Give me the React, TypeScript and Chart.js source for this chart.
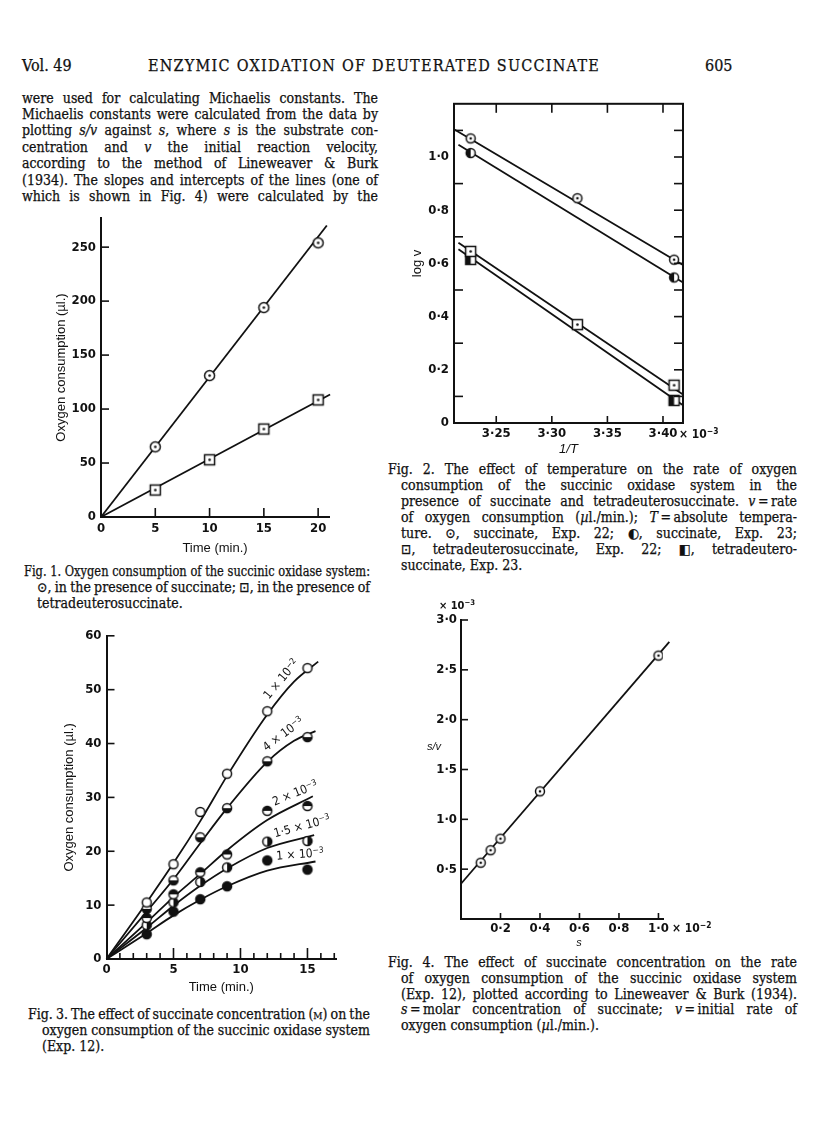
import React, { useEffect, useLayoutEffect, useRef } from 'react';
import { Chart, registerables } from 'chart.js';
Chart.register(...registerables);

// ---------------- Fig. 1 data ----------------
const fig1Time = [5, 10, 15, 20];
const fig1Succinate = [65, 131, 194, 254];
const fig1Deutero = [25, 53, 81.5, 108.5];
const fig1SuccFitX = [0, 20.8];
const fig1SuccFitY = [0, 270];
const fig1DeutFitX = [0, 21.1];
const fig1DeutFitY = [0, 113.5];
const fig1XTicks = [0, 5, 10, 15, 20];
const fig1XLabels = ['0', '5', '10', '15', '20'];
const fig1YTicks = [0, 50, 100, 150, 200, 250];
const fig1YLabels = ['0', '50', '100', '150', '200', '250'];
const fig1XMarks = [5, 10, 15, 20];
const fig1YMarks = [50, 100, 150, 200, 250];

// ---------------- Fig. 2 data ----------------
const fig2InvT22 = [3.227, 3.323, 3.41];
const fig2Succ22 = [1.07, 0.845, 0.614];
const fig2InvT23 = [3.227, 3.41];
const fig2Succ23 = [1.015, 0.547];
const fig2Deut22 = [0.645, 0.37, 0.142];
const fig2Deut23 = [0.615, 0.085];
const fig2FitSucc22X = [3.212, 3.418];
const fig2FitSucc22Y = [1.104, 0.594];
const fig2FitSucc23X = [3.216, 3.418];
const fig2FitSucc23Y = [1.046, 0.528];
const fig2FitDeut22X = [3.216, 3.418];
const fig2FitDeut22Y = [0.678, 0.107];
const fig2FitDeut23X = [3.216, 3.418];
const fig2FitDeut23Y = [0.653, 0.067];
const fig2XTicks = [3.25, 3.3, 3.35, 3.4];
const fig2XLabels = ['3·25', '3·30', '3·35', '3·40'];
const fig2YTicks = [0, 0.2, 0.4, 0.6, 0.8, 1.0];
const fig2YLabels = ['0', '0·2', '0·4', '0·6', '0·8', '1·0'];
const fig2LeftMarks = [0.1, 0.3, 0.5, 0.7, 0.9, 1.1];
const fig2RightMarks = [0.1, 0.2, 0.3, 0.4, 0.5, 0.6, 0.7, 0.8, 0.9, 1.0, 1.1];

// ---------------- Fig. 3 data ----------------
const fig3Time = [3, 5, 7, 9, 12, 15];
const fig3Conc1e2 = [10.5, 17.6, 27.3, 34.4, 46.0, 54.0];
const fig3Conc4e3 = [9.3, 14.6, 22.6, 28.0, 36.7, 41.2];
const fig3Conc2e3 = [7.6, 12.0, 16.1, 19.4, 27.5, 28.4];
const fig3Conc15e3 = [6.3, 10.5, 14.3, 17.0, 21.8, 21.9];
const fig3Conc1e3 = [4.6, 8.8, 11.1, 13.5, 18.3, 16.6];
const fig3Curve1e2X = [0, 3, 5, 7, 9, 12, 14, 15.8];
const fig3Curve1e2Y = [0, 10.5, 17.8, 25.6, 34.0, 45.4, 51.5, 55.2];
const fig3Curve4e3X = [0, 3, 5, 7, 9, 12, 14, 15.6];
const fig3Curve4e3Y = [0, 8.8, 14.8, 21.5, 28.0, 36.6, 40.5, 42.3];
const fig3Curve2e3X = [0, 3, 5, 7, 9, 12, 15.4];
const fig3Curve2e3Y = [0, 6.8, 11.5, 15.8, 20.2, 25.8, 30.2];
const fig3Curve15e3X = [0, 3, 5, 7, 9, 12, 15.5];
const fig3Curve15e3Y = [0, 5.8, 9.9, 13.6, 16.8, 20.6, 23.0];
const fig3Curve1e3X = [0, 3, 5, 7, 9, 12, 15.6];
const fig3Curve1e3Y = [0, 4.8, 8.1, 11.0, 13.5, 16.4, 18.1];
const fig3XTicks = [0, 5, 10, 15];
const fig3XLabels = ['0', '5', '10', '15'];
const fig3YTicks = [0, 10, 20, 30, 40, 50, 60];
const fig3YLabels = ['0', '10', '20', '30', '40', '50', '60'];
const fig3XMajorMarks = [5, 10, 15];
const fig3XMinorMarks = [1, 2, 3, 4, 6, 7, 8, 9, 11, 12, 13, 14, 16, 17];
const fig3YMarks = [10, 20, 30, 40, 50, 60];

// ---------------- Fig. 4 data ----------------
const fig4S = [0.1, 0.15, 0.2, 0.4, 1.0];
const fig4SV = [0.565, 0.69, 0.806, 1.281, 2.643];
const fig4FitX = [0, 1.055];
const fig4FitY = [0.354, 2.78];
const fig4XTicks = [0.2, 0.4, 0.6, 0.8, 1.0];
const fig4XLabels = ['0·2', '0·4', '0·6', '0·8', '1·0'];
const fig4YTicks = [0.5, 1.0, 1.5, 2.0, 2.5, 3.0];
const fig4YLabels = ['0·5', '1·0', '1·5', '2·0', '2·5', '3·0'];

// ---------------- styling ----------------
const INK = '#111';
const SANS_NARROW = "'Liberation Sans Narrow', 'DejaVu Sans Condensed', 'Noto Sans', sans-serif";
const SANS = "'Liberation Sans', Arial, 'Noto Sans', sans-serif";
const SERIF = "'DejaVu Serif Condensed', 'DejaVu Serif', 'Liberation Serif', serif";
const TICK_FONT = { family: SANS_NARROW, size: 13, weight: 'bold' };
const TITLE_FONT = { family: SANS, size: 13, weight: 'normal' };

const pts = (xs: number[], ys: number[]) => xs.map((x, i) => ({ x, y: ys[i] }));

function marker(kind: string, r: number): HTMLCanvasElement {
  const lw = 1.5;
  const size = Math.ceil(2 * r + 2 * lw + 2);
  const c = document.createElement('canvas');
  c.width = size; c.height = size;
  const g = c.getContext('2d')!;
  const m = size / 2;
  g.lineWidth = lw; g.strokeStyle = INK; g.fillStyle = '#fff';
  if (kind.startsWith('square')) {
    g.fillRect(m - r, m - r, 2 * r, 2 * r);
    if (kind === 'squareHalf') { g.fillStyle = INK; g.fillRect(m - r, m - r, r, 2 * r); }
    g.strokeRect(m - r, m - r, 2 * r, 2 * r);
    if (kind === 'squareDot') { g.fillStyle = INK; g.beginPath(); g.arc(m, m, 1.3, 0, Math.PI * 2); g.fill(); }
  } else {
    g.beginPath(); g.arc(m, m, r, 0, Math.PI * 2); g.fill();
    g.fillStyle = INK;
    const half = (a0: number, a1: number) => { g.beginPath(); g.moveTo(m, m); g.arc(m, m, r, a0, a1); g.closePath(); g.fill(); };
    if (kind === 'circleFilled') { g.beginPath(); g.arc(m, m, r, 0, Math.PI * 2); g.fill(); }
    if (kind === 'circleHalfLeft') half(Math.PI / 2, Math.PI * 1.5);
    if (kind === 'circleHalfRight') half(-Math.PI / 2, Math.PI / 2);
    if (kind === 'circleHalfTop') half(Math.PI, Math.PI * 2);
    if (kind === 'circleHalfBottom') half(0, Math.PI);
    g.beginPath(); g.arc(m, m, r, 0, Math.PI * 2); g.stroke();
    if (kind === 'circleDot') { g.beginPath(); g.arc(m, m, 1.3, 0, Math.PI * 2); g.fill(); }
  }
  return c;
}

type Mark = { axis: 'x' | 'y'; side: 'top' | 'bottom' | 'left' | 'right'; values: number[]; len: number };

function decorPlugin(marks: Mark[], frame: boolean) {
  return {
    id: 'decor',
    afterDatasetsDraw(chart: any) {
      const { ctx, chartArea: a, scales } = chart;
      ctx.save();
      ctx.strokeStyle = INK;
      if (frame) { ctx.lineWidth = 2; ctx.strokeRect(a.left, a.top, a.right - a.left, a.bottom - a.top); }
      ctx.lineWidth = 1.6;
      for (const mk of marks) {
        for (const v of mk.values) {
          ctx.beginPath();
          if (mk.axis === 'x') {
            const px = scales.x.getPixelForValue(v);
            const y0 = mk.side === 'bottom' ? a.bottom : a.top;
            const dir = mk.side === 'bottom' ? -1 : 1;
            ctx.moveTo(px, y0); ctx.lineTo(px, y0 + dir * mk.len);
          } else {
            const py = scales.y.getPixelForValue(v);
            const x0 = mk.side === 'left' ? a.left : a.right;
            const dir = mk.side === 'left' ? 1 : -1;
            ctx.moveTo(x0, py); ctx.lineTo(x0 + dir * mk.len, py);
          }
          ctx.stroke();
        }
      }
      ctx.restore();
    },
  };
}

function scaleCfg(o: any, isX: boolean, fixed: number) {
  return {
    type: 'linear', min: o.min, max: o.max, position: isX ? 'bottom' : 'left',
    afterBuildTicks: (s: any) => { s.ticks = o.ticks.map((v: number) => ({ value: v })); },
    afterFit: (s: any) => { if (isX) s.height = fixed; else s.width = fixed; },
    ticks: {
      callback: (_v: any, i: number) => o.labels[i] ?? '',
      font: TICK_FONT, color: INK, padding: o.pad, autoSkip: false, maxRotation: 0, minRotation: 0,
    },
    grid: { display: true, drawOnChartArea: false, drawTicks: false, color: INK },
    border: { display: o.border !== false, color: INK, width: 2 },
    title: o.title
      ? { display: true, text: o.title, font: o.titleFont || TITLE_FONT, color: INK,
          padding: isX ? { top: 0, bottom: o.titlePad } : { top: o.titlePad, bottom: 0 } }
      : { display: false },
  };
}

function makeConfig(o: any) {
  return {
    type: 'scatter',
    data: { datasets: o.datasets },
    options: {
      responsive: false, animation: false, events: [], devicePixelRatio: 1,
      layout: { padding: o.pad },
      plugins: { legend: { display: false }, tooltip: { enabled: false }, title: { display: false } },
      scales: { x: scaleCfg(o.x, true, o.xHeight), y: scaleCfg(o.y, false, o.yWidth) },
    },
    plugins: [decorPlugin(o.marks, !!o.frame)],
  };
}

const pointSet = (data: any[], style: HTMLCanvasElement) => ({
  data, showLine: false, pointStyle: style, pointRadius: 5, borderColor: INK, backgroundColor: '#fff', order: 0,
});
const lineSet = (data: any[], curve = false) => ({
  data, showLine: true, pointRadius: 0, borderColor: INK, borderWidth: 1.8, fill: false, order: 1, clip: false,
  ...(curve ? { cubicInterpolationMode: 'monotone' } : {}),
});

function ChartCanvas({ box, build }: { box: any; build: () => any }) {
  const ref = useRef<HTMLCanvasElement>(null);
  useEffect(() => {
    const chart = new Chart(ref.current as HTMLCanvasElement, build());
    return () => chart.destroy();
  }, []);
  return (
    <canvas ref={ref} width={box.width} height={box.height}
      style={{ position: 'absolute', left: box.left, top: box.top, width: box.width, height: box.height }} />
  );
}

const fig1Build = () => makeConfig({
  pad: { top: 13, right: 11, bottom: 0, left: 0 }, yWidth: 71, xHeight: 42,
  x: { min: 0, max: 21, ticks: fig1XTicks, labels: fig1XLabels, pad: 4, title: 'Time (min.)', titlePad: 3 },
  y: { min: 0, max: 277, ticks: fig1YTicks, labels: fig1YLabels, pad: 5, title: 'Oxygen consumption (µl.)', titlePad: 24 },
  marks: [
    { axis: 'x', side: 'bottom', values: fig1XMarks, len: 9 },
    { axis: 'y', side: 'left', values: fig1YMarks, len: 8 },
  ],
  datasets: [
    pointSet(pts(fig1Time, fig1Succinate), marker('circleDot', 5)),
    pointSet(pts(fig1Time, fig1Deutero), marker('squareDot', 5)),
    lineSet(pts(fig1SuccFitX, fig1SuccFitY)),
    lineSet(pts(fig1DeutFitX, fig1DeutFitY)),
  ],
});

const fig2Build = () => makeConfig({
  pad: { top: 10, right: 10, bottom: 0, left: 0 }, yWidth: 54, xHeight: 36, frame: true,
  x: { min: 3.212, max: 3.418, ticks: fig2XTicks, labels: fig2XLabels, pad: 3, title: '1/T', titlePad: 2, border: false,
       titleFont: { family: SANS, size: 13, style: 'italic' } },
  y: { min: 0, max: 1.2, ticks: fig2YTicks, labels: fig2YLabels, pad: 5, title: 'log v', titlePad: 10, border: false },
  marks: [
    { axis: 'y', side: 'left', values: fig2LeftMarks, len: 9 },
    { axis: 'y', side: 'right', values: fig2RightMarks, len: 9 },
    { axis: 'x', side: 'top', values: fig2XTicks, len: 9 },
    { axis: 'x', side: 'bottom', values: fig2XTicks, len: 7 },
  ],
  datasets: [
    pointSet(pts(fig2InvT22, fig2Succ22), marker('circleDot', 4.5)),
    pointSet(pts(fig2InvT23, fig2Succ23), marker('circleHalfLeft', 4.5)),
    pointSet(pts(fig2InvT22, fig2Deut22), marker('squareDot', 5)),
    pointSet(pts(fig2InvT23, fig2Deut23), marker('squareHalf', 5)),
    lineSet(pts(fig2FitSucc22X, fig2FitSucc22Y)),
    lineSet(pts(fig2FitSucc23X, fig2FitSucc23Y)),
    lineSet(pts(fig2FitDeut22X, fig2FitDeut22Y)),
    lineSet(pts(fig2FitDeut23X, fig2FitDeut23Y)),
  ],
});

const fig3Build = () => makeConfig({
  pad: { top: 12, right: 10, bottom: 0, left: 0 }, yWidth: 66.5, xHeight: 40,
  x: { min: 0, max: 17.13, ticks: fig3XTicks, labels: fig3XLabels, pad: 3, title: 'Time (min.)', titlePad: 4 },
  y: { min: 0, max: 60, ticks: fig3YTicks, labels: fig3YLabels, pad: 5, title: 'Oxygen consumption (µl.)', titlePad: 22 },
  marks: [
    { axis: 'x', side: 'bottom', values: fig3XMajorMarks, len: 11 },
    { axis: 'x', side: 'bottom', values: fig3XMinorMarks, len: 6 },
    { axis: 'y', side: 'left', values: fig3YMarks, len: 8 },
  ],
  datasets: [
    pointSet(pts(fig3Time, fig3Conc1e2), marker('circleOpen', 4.5)),
    pointSet(pts(fig3Time, fig3Conc4e3), marker('circleHalfBottom', 4.5)),
    pointSet(pts(fig3Time, fig3Conc2e3), marker('circleHalfTop', 4.5)),
    pointSet(pts(fig3Time, fig3Conc15e3), marker('circleHalfRight', 4.5)),
    pointSet(pts(fig3Time, fig3Conc1e3), marker('circleFilled', 4.5)),
    lineSet(pts(fig3Curve1e2X, fig3Curve1e2Y), true),
    lineSet(pts(fig3Curve4e3X, fig3Curve4e3Y), true),
    lineSet(pts(fig3Curve2e3X, fig3Curve2e3Y), true),
    lineSet(pts(fig3Curve15e3X, fig3Curve15e3Y), true),
    lineSet(pts(fig3Curve1e3X, fig3Curve1e3Y), true),
  ],
});

const fig4Build = () => makeConfig({
  pad: { top: 12, right: 12, bottom: 0, left: 0 }, yWidth: 61, xHeight: 30,
  x: { min: 0, max: 1.023, ticks: fig4XTicks, labels: fig4XLabels, pad: 1.5 },
  y: { min: 0, max: 3.0, ticks: fig4YTicks, labels: fig4YLabels, pad: 4 },
  marks: [
    { axis: 'x', side: 'bottom', values: fig4XTicks, len: 6 },
    { axis: 'y', side: 'left', values: fig4YTicks, len: 7 },
  ],
  datasets: [
    pointSet(pts(fig4S, fig4SV), marker('circleDot', 4.5)),
    lineSet(pts(fig4FitX, fig4FitY)),
  ],
});

// ---------------- text helpers ----------------
function Line({ x, y, w, children, size = 14, family = SERIF, mode = 'word', lh = 16, weight = 'normal' }: any) {
  const ref = useRef<HTMLDivElement>(null);
  useLayoutEffect(() => {
    const el = ref.current; if (!el || !w) return;
    const nat = el.getBoundingClientRect().width;
    const txt = el.textContent || '';
    const diff = w - nat;
    if (mode === 'letter') { el.style.letterSpacing = (diff / txt.length) + 'px'; return; }
    if (mode === 'none') { if (diff < 0) el.style.transform = `scaleX(${w / nat})`; return; }
    const spaces = (txt.match(/ /g) || []).length;
    if (spaces > 0 && diff / spaces > -1.2) el.style.wordSpacing = (diff / spaces) + 'px';
    else el.style.transform = `scaleX(${w / nat})`;
  }, []);
  return (
    <div ref={ref} style={{ position: 'absolute', left: x, top: y - lh / 2, lineHeight: lh + 'px', height: lh,
      whiteSpace: 'nowrap', fontFamily: family, fontSize: size, fontWeight: weight, color: INK,
      transformOrigin: '0 50%', WebkitTextStroke: '0.25px ' + INK } as any}>
      {children}
    </div>
  );
}

function Txt({ x, y, children, size = 13, weight = 'bold', italic = false, family = SANS_NARROW, align = 'left', rotate = 0 }: any) {
  const tx = align === 'center' ? '-50%' : align === 'right' ? '-100%' : '0';
  return (
    <div style={{ position: 'absolute', left: x, top: y, transform: `translate(${tx}, -50%) rotate(${rotate}deg)`,
      whiteSpace: 'nowrap', fontFamily: family, fontSize: size, fontWeight: weight,
      fontStyle: italic ? 'italic' : 'normal', lineHeight: 1, color: INK }}>
      {children}
    </div>
  );
}

const Sup = ({ children }: any) => (
  <span style={{ fontSize: '0.7em', position: 'relative', top: '-0.5em' }}>{children}</span>
);

const bodyLines = [
  <>were used for calculating Michaelis constants. The</>,
  <>Michaelis constants were calculated from the data by</>,
  <>plotting <i>s/v</i> against <i>s</i>, where <i>s</i> is the substrate con-</>,
  <>centration and <i>v</i> the initial reaction velocity,</>,
  <>according to the method of Lineweaver &amp; Burk</>,
  <>(1934). The slopes and intercepts of the lines (one of</>,
  <>which is shown in Fig. 4) were calculated by the</>,
];

const fig1Caption = [
  <>Fig. 1. Oxygen consumption of the succinic oxidase system:</>,
  <>⊙, in the presence of succinate; ⊡, in the presence of</>,
  <>tetradeuterosuccinate.</>,
];
const fig2Caption = [
  <>Fig. 2. The effect of temperature on the rate of oxygen</>,
  <>consumption of the succinic oxidase system in the</>,
  <>presence of succinate and tetradeuterosuccinate. <i>v</i>{'\u2009'}={'\u2009'}rate</>,
  <>of oxygen consumption (<i>µ</i>l./min.); <i>T</i>{'\u2009'}={'\u2009'}absolute tempera-</>,
  <>ture. ⊙, succinate, Exp. 22; ◐, succinate, Exp. 23;</>,
  <>⊡, tetradeuterosuccinate, Exp. 22; ◧, tetradeutero-</>,
  <>succinate, Exp. 23.</>,
];
const fig3Caption = [
  <>Fig. 3. The effect of succinate concentration (<span style={{ fontVariant: 'small-caps' }}>m</span>) on the</>,
  <>oxygen consumption of the succinic oxidase system</>,
  <>(Exp. 12).</>,
];
const fig4Caption = [
  <>Fig. 4. The effect of succinate concentration on the rate</>,
  <>of oxygen consumption of the succinic oxidase system</>,
  <>(Exp. 12), plotted according to Lineweaver &amp; Burk (1934).</>,
  <><i>s</i>{'\u2009'}={'\u2009'}molar concentration of succinate; <i>v</i>{'\u2009'}={'\u2009'}initial rate of</>,
  <>oxygen consumption (<i>µ</i>l./min.).</>,
];

function Caption({ lines, x0, x1, right, y0, step }: any) {
  return (
    <>
      {lines.map((l: any, i: number) => {
        const last = i === lines.length - 1;
        const x = i === 0 ? x0 : x1;
        return <Line key={i} x={x} y={y0 + i * step} w={right - x} mode={last ? 'none' : 'word'}>{l}</Line>;
      })}
    </>
  );
}

export default function App() {
  return (
    <div style={{ position: 'absolute', left: 0, top: 0, width: 816, height: 1146, background: '#fff', overflow: 'hidden' }}>
      {/* running header */}
      <Line x={22} y={66} size={16} mode="none">Vol. 49</Line>
      <Line x={148} y={66} w={452} size={16} mode="letter">ENZYMIC OXIDATION OF DEUTERATED SUCCINATE</Line>
      <Line x={705} y={66} size={16} mode="none">605</Line>

      {/* body text */}
      {bodyLines.map((l, i) => (
        <Line key={i} x={22} y={97.5 + i * 16.4} w={356}>{l}</Line>
      ))}

      {/* charts */}
      <ChartCanvas box={{ left: 30, top: 205, width: 310, height: 354 }} build={fig1Build} />
      <ChartCanvas box={{ left: 400, top: 91, width: 293, height: 368 }} build={fig2Build} />
      <ChartCanvas box={{ left: 40, top: 623, width: 306, height: 376 }} build={fig3Build} />
      <ChartCanvas box={{ left: 400, top: 608, width: 275, height: 341 }} build={fig4Build} />

      {/* Fig. 2 axis multiplier */}
      <Txt x={679} y={434} size={12}>× 10<Sup>−3</Sup></Txt>

      {/* Fig. 3 curve labels */}
      <Txt x={281} y={679} size={12} weight="normal" align="center" rotate={-50}>1 × 10<Sup>−2</Sup></Txt>
      <Txt x={283} y={734} size={12} weight="normal" align="center" rotate={-37}>4 × 10<Sup>−3</Sup></Txt>
      <Txt x={295} y={793} size={12} weight="normal" align="center" rotate={-22}>2 × 10<Sup>−3</Sup></Txt>
      <Txt x={302} y={826} size={12} weight="normal" align="center" rotate={-15}>1·5 × 10<Sup>−3</Sup></Txt>
      <Txt x={300} y={854} size={12} weight="normal" align="center" rotate={-4}>1 × 10<Sup>−3</Sup></Txt>

      {/* Fig. 4 labels */}
      <Txt x={439} y={605} size={11}>× 10<Sup>−3</Sup></Txt>
      <Txt x={427} y={746} size={11} italic weight="normal" family={SANS}>s/v</Txt>
      <Txt x={672} y={928} size={12}>× 10<Sup>−2</Sup></Txt>
      <Txt x={579} y={942} size={11} italic weight="normal" family={SANS} align="center">s</Txt>

      {/* captions */}
      <Caption lines={fig1Caption} x0={24} x1={37} right={370} y0={571} step={16} />
      <Caption lines={fig2Caption} x0={388} x1={401} right={797} y0={469} step={16} />
      <Caption lines={fig3Caption} x0={28} x1={42} right={370} y0={1014} step={16} />
      <Caption lines={fig4Caption} x0={388} x1={401} right={797} y0={962} step={15.8} />
    </div>
  );
}
